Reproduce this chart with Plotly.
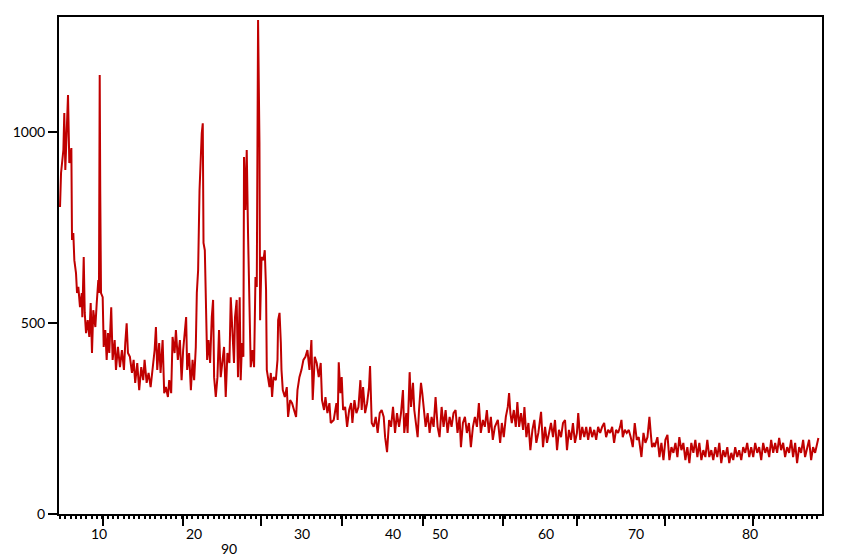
import plotly.graph_objects as go

# 2-theta (deg) and intensity (counts)
two_theta = [
    5.81, 5.92, 6.17, 6.27, 6.38, 6.53, 6.67, 6.81, 7.03, 7.10, 7.24, 7.35, 7.53, 7.64, 7.78, 7.96,
    8.15, 8.21, 8.36, 8.47, 8.61, 8.79, 8.96, 9.11, 9.25, 9.39, 9.61, 9.76, 9.93, 10.00, 10.08, 10.14,
    10.22, 10.40, 10.51, 10.68, 10.83, 10.97, 11.11, 11.32, 11.47, 11.69, 11.83, 12.04, 12.26, 12.47,
    12.69, 12.83, 12.98, 13.12, 13.33, 13.55, 13.73, 13.90, 14.12, 14.33, 14.55, 14.76, 14.91, 15.13,
    15.34, 15.56, 15.77, 15.99, 16.13, 16.27, 16.48, 16.63, 16.85, 17.02, 17.20, 17.42, 17.56, 17.77,
    17.92, 18.14, 18.28, 18.49, 18.71, 18.89, 19.06, 19.24, 19.38, 19.49, 19.70, 19.89, 20.07, 20.24,
    20.42, 20.53, 20.67, 20.82, 20.96, 21.06, 21.17, 21.25, 21.39, 21.46, 21.57, 21.64, 21.79, 21.96,
    22.14, 22.28, 22.39, 22.57, 22.75, 22.92, 23.10, 23.29, 23.46, 23.64, 23.82, 24.04, 24.18, 24.39,
    24.53, 24.64, 24.82, 24.96, 25.14, 25.25, 25.39, 25.54, 25.61, 25.76, 25.90, 26.04, 26.19, 26.33,
    26.52, 26.69, 26.84, 26.98, 27.12, 27.27, 27.34, 27.49, 27.70, 27.84, 27.98, 28.06, 28.35, 28.49,
    28.63, 28.78, 29.03, 29.21, 29.28, 29.43, 29.57, 29.64, 29.78, 30.00, 30.21, 30.35, 30.57, 30.78,
    30.99, 31.21, 31.36, 31.57, 31.79, 32.00, 32.22, 32.43, 32.65, 32.86, 33.00, 33.22, 33.43, 33.65,
    33.86, 34.00, 34.22, 34.37, 34.58, 34.80, 34.94, 35.26, 35.55, 35.69, 35.80, 35.98, 36.12, 36.27,
    36.49, 36.70, 36.92, 37.13, 37.27, 37.49, 37.70, 37.92, 38.13, 38.27, 38.42, 38.64, 38.85, 39.06,
    39.17, 39.35, 39.56, 39.78, 39.99, 40.21, 40.42, 40.64, 40.79, 41.00, 41.22, 41.43, 41.64, 41.86,
    42.07, 42.29, 42.50, 42.71, 42.85, 43.07, 43.21, 43.43, 43.58, 43.79, 43.93, 44.29, 44.44, 44.65,
    44.79, 44.94, 45.15, 45.37, 45.58, 45.79, 46.01, 46.22, 46.44, 46.65, 46.87, 47.08, 47.30, 47.51,
    47.73, 47.94, 48.15, 48.37, 48.58, 48.80, 48.95, 49.16, 49.38, 49.59, 49.81, 50.02, 50.24, 50.45,
    50.67, 50.88, 51.09, 51.31, 51.52, 51.74, 51.95, 52.17, 52.38, 52.60, 52.92, 53.17, 53.35, 53.56,
    53.78, 53.99, 54.13, 54.27, 54.42, 54.64, 54.85, 55.02, 55.21, 55.42, 55.64, 55.78, 55.99, 56.21,
    56.42, 56.64, 56.85, 57.06, 57.28, 57.57, 57.78, 58.00, 58.21, 58.43, 58.64, 58.86, 59.07, 59.29,
    59.50, 59.72, 59.93, 60.15, 60.36, 60.57, 60.79, 61.00, 61.22, 61.43, 61.57, 61.79, 62.00, 62.22,
    62.43, 62.64, 62.86, 63.07, 63.29, 63.50, 63.71, 63.93, 64.14, 64.36, 64.57, 64.79, 65.00, 65.22,
    65.43, 65.64, 65.86, 66.07, 66.22, 66.36, 66.58, 66.79, 67.01, 67.22, 67.44, 67.65, 67.87, 68.08,
    68.37, 68.59, 68.80, 69.02, 69.23, 69.37, 69.51, 69.73, 69.80, 70.09, 70.31, 70.52, 70.74, 70.95,
    71.17, 71.38, 71.60, 71.81, 72.03, 72.24, 72.45, 72.67, 72.88, 73.10, 73.31, 73.53, 73.74, 73.96,
    74.17, 74.39, 74.60, 74.82, 75.03, 75.25, 75.46, 75.67, 75.89, 76.10, 76.32, 76.53, 76.75, 76.96,
    77.18, 77.39, 77.61, 77.82, 78.04, 78.25, 78.46, 78.68, 78.89, 79.11, 79.32, 79.54, 79.75, 79.97,
    80.18, 80.40, 80.61, 80.83, 81.04, 81.26, 81.47, 81.69, 81.90, 82.12, 82.33, 82.55, 82.76, 82.97,
    83.19, 83.40, 83.62, 83.83, 84.05, 84.26, 84.48, 84.69, 84.91, 85.12, 85.34, 85.55, 85.77, 85.98,
    86.20, 86.41, 86.63, 86.84, 87.06, 87.27, 87.41,
]
intensity = [
    803, 892, 952, 1049, 900, 1012, 1096, 918, 957, 717, 735, 664, 630, 578, 594, 541,
    578, 515, 672, 526, 473, 507, 463, 552, 421, 533, 489, 552, 612, 578, 1148, 839,
    578, 567, 437, 481, 403, 473, 421, 541, 403, 455, 377, 437, 384, 429,
    377, 447, 499, 421, 411, 369, 403, 343, 395, 324, 384, 350, 403, 343,
    369, 332, 377, 429, 489, 377, 447, 369, 455, 316, 332, 306, 350, 316,
    463, 421, 481, 403, 455, 350, 429, 489, 515, 377, 421, 324, 403, 350,
    437, 578, 638, 847, 970, 996, 1022, 709, 690, 620, 515, 403, 455, 395,
    515, 560, 358, 306, 358, 481, 358, 395, 437, 306, 421, 395, 567, 463,
    395, 515, 560, 358, 567, 350, 447, 411, 934, 795, 952, 735, 515, 384,
    429, 384, 620, 594, 1292, 970, 507, 672, 664, 690, 586, 377, 332, 369,
    306, 358, 350, 403, 507, 526, 447, 377, 324, 306, 332, 254, 298, 290,
    272, 254, 324, 358, 377, 403, 411, 429, 377, 455, 298, 411, 395, 358,
    395, 298, 272, 306, 264, 290, 238, 246, 290, 246, 397, 316, 358, 272,
    280, 228, 272, 290, 238, 298, 264, 280, 350, 272, 332, 264, 290, 332,
    387, 238, 228, 254, 212, 264, 272, 254, 201, 162, 246, 228, 280, 212,
    264, 228, 264, 324, 212, 264, 212, 371, 280, 343, 272, 201, 272, 343,
    316, 272, 228, 264, 212, 254, 228, 306, 228, 201, 280, 228, 272, 212,
    254, 228, 264, 272, 212, 254, 175, 238, 254, 212, 238, 175, 228, 254,
    228, 290, 212, 246, 228, 272, 212, 254, 194, 228, 246, 186, 238, 201,
    254, 280, 316, 264, 238, 272, 228, 293, 228, 264, 220, 280, 201, 238,
    167, 220, 246, 186, 212, 267, 175, 228, 186, 212, 238, 201, 246, 167,
    220, 201, 238, 246, 167, 220, 194, 238, 186, 212, 264, 194, 228, 201,
    228, 194, 228, 201, 220, 194, 228, 212, 228, 238, 201, 220, 212, 228,
    186, 220, 212, 228, 246, 201, 220, 212, 220, 201, 175, 238, 194, 201,
    149, 212, 186, 201, 254, 212, 175, 186, 175, 201, 149, 186, 141, 194,
    207, 141, 175, 160, 186, 149, 201, 167, 186, 141, 175, 133, 186, 160,
    194, 149, 186, 141, 167, 149, 194, 149, 167, 141, 175, 149, 186, 133,
    167, 149, 175, 133, 160, 141, 175, 149, 167, 141, 175, 160, 186, 149,
    175, 149, 186, 160, 175, 141, 186, 160, 175, 149, 194, 160, 186, 160,
    199, 167, 186, 149, 175, 160, 194, 149, 186, 133, 175, 160, 194, 149,
    175, 194, 141, 175, 160, 186, 199,
]

# axis ticks as drawn in the reference (marks and labels do not line up)
x_tick_marks = [10.40, 18.99, 27.39, 36.17, 44.90, 53.45, 61.40, 70.88, 80.33]
x_label_pos = [10.00, 20.20, 31.90, 41.67, 46.72, 58.10, 67.77, 80.01]
x_label_text = ["10", "20", "30", "40", "50", "60", "70", "80"]
y_ticks = [0, 500, 1000]

FONT = dict(family="Lato, 'Open Sans', sans-serif", size=14, color="black")
X_RANGE = [5.70, 87.80]

fig = go.Figure()
fig.add_trace(go.Scatter(x=two_theta, y=intensity, mode="lines",
                         line=dict(color="#C00000", width=2), showlegend=False))

# page has a body margin, so the margins are shifted to compensate
fig.update_layout(
    width=847, height=557,
    margin=dict(l=51, r=33, t=9, b=51, autoexpand=False),
    paper_bgcolor="white", plot_bgcolor="white",
    font=FONT,
    xaxis=dict(range=X_RANGE, tickmode="array", tickvals=x_tick_marks,
               showticklabels=False, ticks="outside", ticklen=10, tickwidth=2,
               tickcolor="black", showline=True, linewidth=2, linecolor="black",
               mirror=True, showgrid=False, zeroline=False, automargin=False,
               minor=dict(tickmode="linear", tick0=5.80, dtick=0.57, ticks="outside",
                          ticklen=3, tickwidth=2, tickcolor="black", showgrid=False)),
    yaxis=dict(range=[0, 1300], tickmode="array", tickvals=y_ticks,
               ticks="outside", ticklen=9, tickwidth=2, tickcolor="black",
               showline=True, linewidth=2, linecolor="black", mirror=True,
               showgrid=False, zeroline=False, tickfont=FONT, automargin=False),
)

# x labels sit at their own positions, off the tick marks
for pos, txt in zip(x_label_pos, x_label_text):
    fig.add_annotation(text=txt, x=pos, xref="x", y=0, yref="paper",
                       yanchor="middle", yshift=-19, showarrow=False, font=FONT)

# stray label under the axis
fig.add_annotation(text="90", x=23.96, xref="x", y=0, yref="paper",
                   yanchor="middle", yshift=-34, showarrow=False, font=FONT)

fig.write_html("out.html")
